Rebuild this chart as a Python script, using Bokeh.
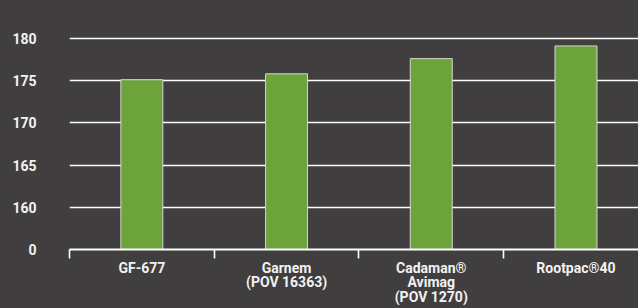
import numpy as np
from bokeh.plotting import figure
from bokeh.models import FixedTicker, ColumnDataSource
from bokeh.embed import file_html
from bokeh.resources import INLINE

# ---- data ----
categories = ["GF-677", "Garnem\n(POV 16363)", "Cadaman®\nAvimag\n(POV 1270)", "Rootpac®40"]
values = [175.1, 175.8, 177.6, 179.1]
y_tick_values = [155, 160, 165, 170, 175, 180]
y_tick_labels = ["0", "160", "165", "170", "175", "180"]
axis_base = 155

BG = "#403e3e"
GREEN = "#6ca33a"
TXT = "#f2f2f2"
FONT = "Roboto"

x_pos = np.arange(len(categories)) + 0.5
src = ColumnDataSource(dict(x=x_pos, top=values))

p = figure(width=638, height=308, output_backend="svg", toolbar_location=None,
           x_range=(0, 3.932), y_range=(axis_base, 184.48))
p.background_fill_color = BG
p.border_fill_color = BG
p.outline_line_color = None
p.min_border_left = 69
p.min_border_right = 0
p.min_border_top = 0
p.min_border_bottom = 58

p.vbar(x="x", top="top", bottom=axis_base, width=0.29, source=src,
       fill_color=GREEN, line_color="#d6d6d6", line_width=1)

# grid
p.xgrid.grid_line_color = None
p.ygrid.ticker = FixedTicker(ticks=y_tick_values[1:])
p.ygrid.grid_line_color = "white"
p.ygrid.grid_line_width = 1.6

# y axis
ya = p.yaxis[0]
ya.ticker = FixedTicker(ticks=y_tick_values)
ya.major_label_overrides = {v: l for v, l in zip(y_tick_values, y_tick_labels)}
ya.axis_line_color = None
ya.major_tick_line_color = None
ya.minor_tick_line_color = None
ya.major_tick_out = 0
ya.major_tick_in = 0
ya.major_label_standoff = 33
ya.major_label_text_align = "right"
ya.major_label_text_font = FONT
ya.major_label_text_font_style = "bold"
ya.major_label_text_font_size = "14px"
ya.major_label_text_color = TXT

# x axis
xa = p.xaxis[0]
xa.ticker = FixedTicker(ticks=list(x_pos), minor_ticks=list(range(len(categories) + 1)))
xa.major_label_overrides = {float(v): c for v, c in zip(x_pos, categories)}
xa.axis_line_color = "white"
xa.axis_line_width = 1.8
xa.major_tick_line_color = None
xa.major_tick_out = 0
xa.major_tick_in = 0
xa.minor_tick_line_color = "white"
xa.minor_tick_line_width = 1.6
xa.minor_tick_out = 9
xa.minor_tick_in = 0
xa.major_label_standoff = 1
xa.major_label_text_font = FONT
xa.major_label_text_font_style = "bold"
xa.major_label_text_font_size = "14px"
xa.major_label_text_line_height = 0.93
xa.major_label_text_color = TXT

html = file_html(p, INLINE)
html = html.replace("</head>", "<style>html, body {background-color: #403e3e;}</style></head>", 1)
open("out.html", "w").write(html)
